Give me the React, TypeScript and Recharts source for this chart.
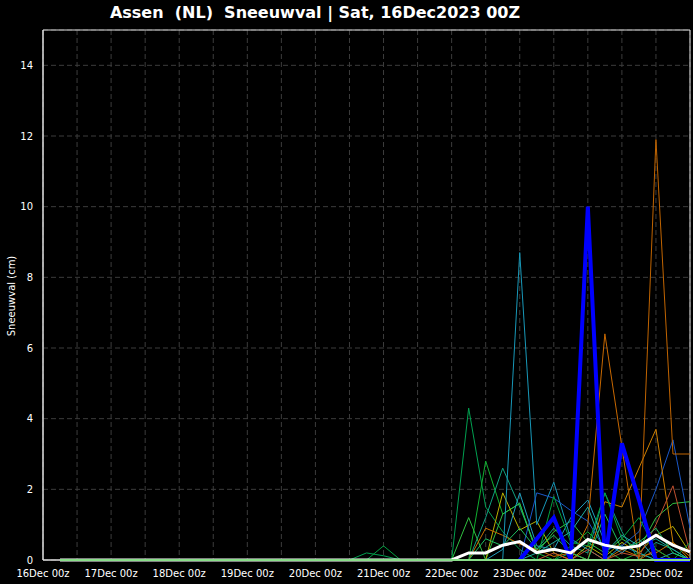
import React from 'react';
import { LineChart, Line, XAxis, YAxis, CartesianGrid, ReferenceArea } from 'recharts';

// time axis: 6-hourly steps from 16Dec 00z (step 0) to 25Dec 12z (step 38)
const dayLabels = ['16Dec 00z', '17Dec 00z', '18Dec 00z', '19Dec 00z', '20Dec 00z', '21Dec 00z', '22Dec 00z', '23Dec 00z', '24Dec 00z', '25Dec 00z'];
const yTicks = [0, 2, 4, 6, 8, 10, 12, 14];
const title = 'Assen  (NL)  Sneeuwval | Sat, 16Dec2023 00Z';
const yLabel = 'Sneeuwval (cm)';

// member values for steps 24..38 (22Dec 00z .. 25Dec 12z); earlier steps are 0
const m01 = [0, 4.3, 1.5, 0.8, 0.3, 0, 0, 0.2, 0, 0, 0, 0, 0, 0, 0];
const m02 = [0, 0, 2.8, 1.3, 1.6, 0.2, 0, 0.4, 0.8, 0.3, 0, 0.2, 0, 0, 0];
const m03 = [0, 0, 1.2, 2.6, 1.5, 0.3, 0.9, 0.4, 0.2, 1.9, 0.8, 0, 0.5, 0.3, 0];
const m04 = [0, 1.2, 0, 1.3, 1.6, 0.2, 0.8, 1.1, 0.5, 0.2, 0.6, 0.3, 1.2, 1.6, 1.65];
const m05 = [0, 0, 0, 1.9, 0.85, 1.1, 0.2, 0, 0.4, 0.1, 0.5, 0.2, 0.7, 0.95, 0.2];
const m06 = [0, 0, 0.9, 0.7, 0.45, 0.3, 0.1, 0.2, 0, 0, 0.3, 0.1, 0.2, 0.5, 0.1];
const m07 = [0, 0, 0, 0, 8.7, 1.0, 2.2, 0.6, 0.3, 0, 0.4, 0.2, 0, 0, 0];
const m08 = [0, 0, 0, 0.3, 1.9, 0.4, 0.3, 1.2, 1.7, 0.5, 0.2, 0.6, 0, 0.2, 0];
const m09 = [0, 0, 0, 0, 0, 1.9, 1.75, 1.4, 1.1, 0.3, 0.4, 0.8, 2.0, 3.4, 0.9];
const m10 = [0, 0, 0, 0, 0, 0, 0, 0, 1.0, 6.4, 3.2, 0, 0.3, 0, 0];
const m11 = [0, 0, 0, 0, 0, 0, 0, 0, 0, 1.65, 1.5, 2.6, 3.7, 0.5, 0];
const m12 = [0, 0, 0, 0, 0, 0, 0, 0, 0, 0, 0, 0, 11.9, 3.0, 3.0];
const m13 = [0, 0, 0, 0, 0, 0, 0.2, 0, 0.3, 0, 0.2, 0.1, 1.0, 2.1, 0.2];
const m14 = [0, 0, 0, 0, 0, 0, 1.8, 0.5, 0.4, 1.9, 0.6, 1.2, 0.3, 0, 0.5];
const m15 = [0, 0, 0, 0, 0, 0.2, 0.5, 0.8, 1.5, 0.2, 0.7, 0.4, 0.6, 0.3, 0];
const m16 = [0, 0, 0.6, 0.4, 0.9, 0.3, 0.7, 0.2, 0, 1.3, 0.3, 0.5, 0.9, 0.2, 0];
// control run: not visible before 23Dec 00z
const control = [null, null, null, null, 0, 0.6, 1.2, 0, 10.0, 0, 3.3, 1.7, 0, 0, 0];
const mean = [0, 0.2, 0.2, 0.42, 0.52, 0.21, 0.3, 0.2, 0.58, 0.42, 0.33, 0.4, 0.7, 0.42, 0.23];
const zeroMember = [0, 0, 0, 0, 0, 0, 0, 0, 0, 0, 0, 0, 0, 0, 0];

// early small bumps, steps 18..21 (20Dec 12z .. 21Dec 06z)
const m01Early = [0, 0.2, 0.12, 0];
const m14Early = [0, 0, 0.4, 0];

type Serie = { key: string; vals: (number | null)[]; early?: number[]; color: string; width: number; padNull?: boolean };

const series: Serie[] = [
  { key: 'm01', vals: m01, early: m01Early, color: '#00a050', width: 1 },
  { key: 'm02', vals: m02, color: '#10b030', width: 1 },
  { key: 'm03', vals: m03, color: '#10a080', width: 1 },
  { key: 'm04', vals: m04, color: '#30c040', width: 1 },
  { key: 'm05', vals: m05, color: '#b8b000', width: 1 },
  { key: 'm06', vals: m06, color: '#c87000', width: 1 },
  { key: 'm07', vals: m07, color: '#1898b8', width: 1 },
  { key: 'm08', vals: m08, color: '#20a0c0', width: 1 },
  { key: 'm09', vals: m09, color: '#1a58c8', width: 1 },
  { key: 'm10', vals: m10, color: '#c86800', width: 1 },
  { key: 'm11', vals: m11, color: '#d08000', width: 1 },
  { key: 'm12', vals: m12, color: '#c06400', width: 1 },
  { key: 'm13', vals: m13, color: '#c05030', width: 1 },
  { key: 'm14', vals: m14, early: m14Early, color: '#00a040', width: 1 },
  { key: 'm15', vals: m15, color: '#20b0a0', width: 1 },
  { key: 'm16', vals: m16, color: '#20c060', width: 1 },
  { key: 'control', vals: control, color: '#0000ff', width: 4, padNull: true },
  { key: 'mean', vals: mean, color: '#ffffff', width: 3 },
  { key: 'zero', vals: zeroMember, color: '#33dd33', width: 2 },
];

const LAST_STEP = 38;
const MAIN_START = 24;
const EARLY_START = 18;

const rows: any[] = [];
for (let t = 0; t <= LAST_STEP; t++) {
  const row: any = { t };
  for (const s of series) {
    if (t < 1) row[s.key] = null;
    else if (t >= MAIN_START) row[s.key] = s.vals[t - MAIN_START];
    else if (s.padNull) row[s.key] = null;
    else if (s.early && t >= EARLY_START && t - EARLY_START < s.early.length) row[s.key] = s.early[t - EARLY_START];
    else row[s.key] = 0;
  }
  rows.push(row);
}

const xTicks: number[] = [];
for (let t = 0; t <= LAST_STEP; t += 2) xTicks.push(t);

const font = 'DejaVu Sans, sans-serif';

export default function App() {
  return (
    <div style={{ position: 'absolute', left: 0, top: 0, width: 693, height: 584, background: '#000000' }}>
      <LineChart
        width={693}
        height={584}
        data={rows}
        margin={{ top: 30, right: 3, left: 0, bottom: 0 }}
        style={{ fontFamily: font }}
      >
        <CartesianGrid stroke="#3c3c3c" strokeDasharray="5 3" />
        <XAxis
          dataKey="t"
          type="number"
          domain={[0, LAST_STEP]}
          ticks={xTicks}
          interval={0}
          height={24}
          tickLine={false}
          axisLine={{ stroke: '#e0e0e0' }}
          tickSize={6}
          tickMargin={4}
          tick={{ fill: '#ffffff', fontSize: 10, fontFamily: font }}
          tickFormatter={(v: number) => (v % 4 === 0 ? dayLabels[v / 4] : '')}
        />
        <YAxis
          type="number"
          domain={[0, 15]}
          ticks={yTicks}
          width={43}
          tickLine={false}
          axisLine={{ stroke: '#e0e0e0' }}
          tickSize={6}
          tickMargin={4}
          tick={{ fill: '#ffffff', fontSize: 10, fontFamily: font }}
        />
        <ReferenceArea x1={0} x2={LAST_STEP} y1={0} y2={15} fill="none" stroke="#e0e0e0" strokeWidth={1} ifOverflow="visible" />
        {series.map((s) => (
          <Line
            key={s.key}
            dataKey={s.key}
            stroke={s.color}
            strokeWidth={s.width}
            dot={false}
            activeDot={false}
            isAnimationActive={false}
            type="linear"
          />
        ))}
      </LineChart>
      <svg width={693} height={584} style={{ position: 'absolute', left: 0, top: 0, pointerEvents: 'none' }}>
        <text x={315} y={18} textAnchor="middle" fill="#ffffff" fontSize={16} fontWeight="bold" fontFamily={font} style={{ whiteSpace: 'pre' }}>
          {title}
        </text>
        <text x={15} y={296} textAnchor="middle" fill="#ffffff" fontSize={10} fontFamily={font} transform="rotate(-90 15 296)">
          {yLabel}
        </text>
      </svg>
    </div>
  );
}
